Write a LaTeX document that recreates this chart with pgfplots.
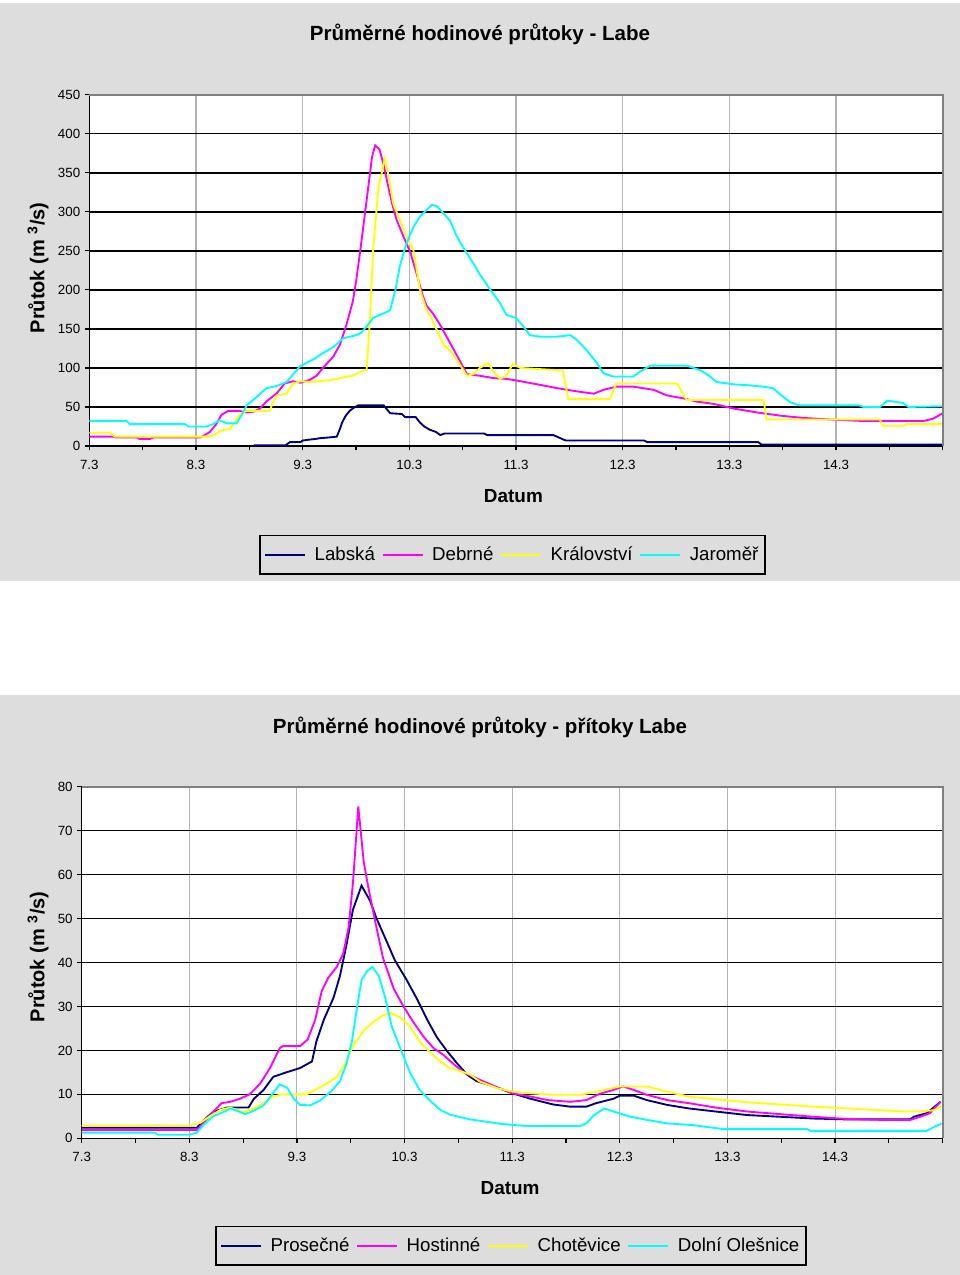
\documentclass[border=0pt]{standalone}
\usepackage{fontspec}
\setmainfont{Liberation Sans}
\usepackage{pgfplots}
\pgfplotsset{compat=1.18}
\definecolor{panel}{RGB}{221,221,221}
\definecolor{navyc}{RGB}{0,0,128}
\definecolor{magc}{RGB}{255,0,255}
\definecolor{yelc}{RGB}{255,255,0}
\definecolor{cyac}{RGB}{0,255,255}
\definecolor{vgrid}{RGB}{180,180,180}
\definecolor{framec}{RGB}{128,128,128}

\pgfplotsset{
 mystyle/.style={
  scale only axis,
  anchor=south west,
  axis x line*=bottom, axis y line*=left,
  axis line style={black, line width=1.1pt},
  axis background/.style={fill=white},
  xmin=0,xmax=8,
  xtick={0,1,2,3,4,5,6,7,8},
  xticklabels={7.3,8.3,9.3,10.3,11.3,12.3,13.3,14.3,{}},
  extra x ticks={0.5,1.5,2.5,3.5,4.5,5.5,6.5,7.5},
  extra x tick labels={},
  extra x tick style={grid=none},
  xmajorgrids, ymajorgrids,
  x grid style={vgrid, line width=0.8pt},
  y grid style={black, line width=1.1pt},
  tick align=outside,
  major tick length=3.3pt,
  tick style={black, line width=0.9pt},
  tick label style={font=\fontsize{10}{12}\selectfont},
  xticklabel style={yshift=-3.5pt},
  /pgf/number format/assume math mode=true,
  every axis plot/.append style={line width=1.4pt, no markers},
  legend columns=4,
  legend image code/.code={\draw[#1, line width=1.5pt] (0pt,0pt) -- (30pt,0pt); \path (34.5pt,0pt);},
  legend style={draw=black, line width=1.1pt, fill=panel, font=\fontsize{14}{16}\selectfont, inner ysep=6.5pt, /tikz/every even column/.append style={column sep=3pt}},
  xlabel={Datum},
  xlabel style={font=\bfseries\fontsize{14.2}{16}\selectfont, anchor=center},
  ylabel={Průtok (m \textsuperscript{3}/s)},
  ylabel style={font=\bfseries\fontsize{15}{17}\selectfont, anchor=center},
  title style={font=\bfseries\fontsize{15.4}{18}\selectfont},
  after end axis/.code={\draw[framec, line width=1.5pt] (rel axis cs:0,1) -- (rel axis cs:1,1) -- (rel axis cs:1,0);},
 }
}

\begin{document}
\begin{tikzpicture}
\path[use as bounding box] (0pt,0pt) rectangle (720pt,-956.25pt);
\fill[panel] (0pt,-2.25pt) rectangle (720pt,-435.75pt);
\fill[panel] (0pt,-521.25pt) rectangle (720pt,-956.25pt);

% ---------------- top chart ----------------
\begin{axis}[mystyle,
  at={(66.975pt,-334.5pt)}, width=640.05pt, height=263.48pt,
  ymin=0, ymax=450, ytick={0,50,100,150,200,250,300,350,400,450},
  title={Průměrné hodinové průtoky - Labe},
  title style={at={(axis description cs:0.4578,1.1500)}, anchor=center},
  xlabel style={at={(axis description cs:0.497,-0.1423)}},
  ylabel style={at={(axis description cs:-0.0601,0.507)}},
  legend style={at={(axis description cs:0.496,-0.2533)}, anchor=north}]
\addplot[navyc] coordinates {
(1.54,1) (1.84,1) (1.86,3) (1.88,5) (1.98,5) (2.0,7) (2.05,8) (2.12,9) (2.16,10) (2.25,11) (2.32,12) (2.35,22) (2.37,30) (2.40,38) (2.44,45) (2.48,49) (2.52,52) (2.76,52) (2.79,47) (2.82,42) (2.93,41) (2.96,37) (3.06,37) (3.1,30) (3.14,25) (3.19,21) (3.25,18) (3.29,14) (3.33,16) (3.7,16) (3.73,14) (4.35,14) (4.4,11) (4.45,8) (4.47,7) (5.2,7) (5.23,5) (6.27,5) (6.3,2) (8.0,2)};
\addlegendentry{Labská}
\addplot[magc] coordinates {
(0,12) (0.22,12) (0.25,11) (0.45,11) (0.47,9) (0.57,9) (0.6,11) (1.04,11) (1.07,13) (1.13,18) (1.19,28) (1.24,40) (1.3,45) (1.41,45) (1.47,43) (1.54,44) (1.6,48) (1.66,57) (1.76,68) (1.83,80) (1.91,83) (1.98,81) (2.07,85) (2.13,90) (2.19,100) (2.29,115) (2.35,130) (2.41,155) (2.47,185) (2.5,210) (2.54,250) (2.6,315) (2.65,370) (2.68,385) (2.72,380) (2.76,360) (2.79,340) (2.84,310) (2.88,290) (2.94,270) (3.01,248) (3.07,220) (3.12,195) (3.16,180) (3.22,170) (3.29,155) (3.35,140) (3.41,125) (3.47,110) (3.54,92) (3.66,90) (3.79,87) (3.91,86) (4.0,84) (4.2,79) (4.39,74) (4.57,70) (4.73,67) (4.82,72) (4.94,76) (5.1,76) (5.29,72) (5.41,65) (5.57,61) (5.69,57) (5.85,54) (6.04,48) (6.26,43) (6.47,39) (6.69,36) (6.94,34) (7.26,32) (7.82,32) (7.91,35) (8.0,42)};
\addlegendentry{Debrné}
\addplot[yelc] coordinates {
(0,17) (0.19,17) (0.24,12) (1.13,12) (1.18,15) (1.24,20) (1.32,22) (1.35,28) (1.41,40) (1.47,45) (1.69,45) (1.72,55) (1.76,65) (1.85,67) (1.91,80) (1.98,83) (2.07,82) (2.16,83) (2.29,85) (2.38,88) (2.47,90) (2.54,95) (2.6,98) (2.63,160) (2.66,250) (2.71,330) (2.77,368) (2.8,350) (2.85,310) (2.91,290) (2.97,270) (3.04,250) (3.1,200) (3.16,175) (3.22,160) (3.32,130) (3.41,118) (3.47,105) (3.54,90) (3.6,92) (3.66,100) (3.74,106) (3.79,95) (3.85,86) (3.91,90) (3.97,105) (4.04,100) (4.41,97) (4.44,97) (4.49,60) (4.88,60) (4.94,80) (5.07,80) (5.51,80) (5.6,59) (6.32,59) (6.35,34) (7.41,34) (7.44,26) (7.63,26) (7.66,28) (8.0,28)};
\addlegendentry{Království}
\addplot[cyac] coordinates {
(0,32) (0.35,32) (0.38,28) (0.9,28) (0.93,25) (1.1,25) (1.16,28) (1.22,33) (1.29,29) (1.38,29) (1.43,40) (1.475,52) (1.57,63) (1.66,74) (1.76,77) (1.85,82) (1.975,102) (2.1,111) (2.19,119) (2.29,127) (2.38,138) (2.475,141) (2.54,144) (2.6,153) (2.66,164) (2.76,170) (2.82,174) (2.87,200) (2.91,230) (2.975,260) (3.04,281) (3.1,294) (3.16,302) (3.21,309) (3.26,307) (3.32,298) (3.38,289) (3.44,270) (3.51,253) (3.6,234) (3.66,220) (3.76,200) (3.85,183) (3.91,168) (4.0,164) (4.07,153) (4.13,142) (4.23,140) (4.38,140) (4.51,142) (4.57,136) (4.66,123) (4.76,106) (4.82,93) (4.91,89) (5.1,89) (5.16,95) (5.26,103) (5.6,103) (5.73,97) (5.82,89) (5.88,82) (6.04,79) (6.16,78) (6.32,76) (6.41,74) (6.47,67) (6.57,56) (6.66,52) (7.22,52) (7.26,50) (7.41,50) (7.48,58) (7.54,57) (7.63,55) (7.68,50) (8.0,51)};
\addlegendentry{Jaroměř}
\end{axis}

% ---------------- bottom chart ----------------
\begin{axis}[mystyle,
  at={(61.275pt,-853.725pt)}, width=645.75pt, height=263.7pt,
  ymin=0, ymax=80, ytick={0,10,20,30,40,50,60,70,80},
  title={Průměrné hodinové průtoky - přítoky Labe},
  title style={at={(axis description cs:0.4626,1.1470)}, anchor=center},
  xlabel style={at={(axis description cs:0.4975,-0.1413)}},
  ylabel style={at={(axis description cs:-0.0508,0.516)}},
  legend style={at={(axis description cs:0.4986,-0.2494)}, anchor=north}]
\addplot[navyc] coordinates {
(0,2.4) (1.07,2.4) (1.13,4) (1.22,6) (1.35,7) (1.55,7) (1.6,9) (1.69,11) (1.78,14) (1.9,15) (2.03,16) (2.14,17.5) (2.18,22) (2.25,27) (2.34,32) (2.4,37) (2.46,44) (2.52,52) (2.6,57.5) (2.68,54) (2.74,50) (2.83,45) (2.91,40.5) (3.02,36) (3.12,31.5) (3.21,27) (3.3,23) (3.39,20) (3.49,17) (3.58,14.5) (3.67,13) (3.83,11.8) (4.01,10.2) (4.17,9) (4.38,7.7) (4.54,7.2) (4.69,7.2) (4.78,8) (4.94,9) (5.0,9.7) (5.13,9.7) (5.25,8.7) (5.44,7.6) (5.64,6.8) (5.89,6.1) (6.18,5.3) (6.49,4.9) (6.8,4.5) (7.11,4.3) (7.7,4.3) (7.73,4.9) (7.85,5.7) (7.98,8.3)};
\addlegendentry{Prosečné}
\addplot[magc] coordinates {
(0,1.9) (1.07,1.9) (1.13,3.5) (1.22,6) (1.3,8) (1.38,8.3) (1.47,9) (1.56,10) (1.66,12.5) (1.75,16) (1.84,20.5) (1.87,21) (2.03,21) (2.1,22.5) (2.17,27) (2.23,33.5) (2.29,36.5) (2.37,39) (2.43,42) (2.48,48) (2.52,58) (2.57,75.5) (2.62,63) (2.66,57.5) (2.73,49) (2.8,41) (2.9,34) (2.99,30) (3.08,26.5) (3.18,23) (3.27,20.5) (3.36,19) (3.45,17) (3.55,15) (3.7,13.3) (3.86,11.6) (4.01,10.2) (4.17,9.5) (4.33,8.7) (4.54,8.3) (4.69,8.7) (4.81,10.1) (4.94,11) (5.03,11.8) (5.13,11) (5.25,9.9) (5.44,8.7) (5.64,8) (5.89,7) (6.18,6.1) (6.49,5.5) (6.8,4.9) (7.11,4.4) (7.42,4.2) (7.7,4.2) (7.79,4.9) (7.88,5.7) (7.98,8.3)};
\addlegendentry{Hostinné}
\addplot[yelc] coordinates {
(0,2.9) (1.0,2.9) (1.1,3.5) (1.19,5) (1.29,6.5) (1.38,7) (1.5,6) (1.6,6.8) (1.69,8) (1.78,9.5) (1.86,10) (2.09,10) (2.17,11) (2.28,12.5) (2.37,14) (2.46,17.5) (2.52,21) (2.62,24.5) (2.71,26.5) (2.8,28) (2.87,28.5) (2.96,27.5) (3.05,25.5) (3.14,22) (3.24,19.5) (3.33,17.5) (3.42,16) (3.52,15.3) (3.61,14.5) (3.7,12.9) (3.86,11.4) (4.01,10.6) (4.2,10.2) (4.38,9.9) (4.63,9.9) (4.78,10.6) (5.0,11.8) (5.25,11.8) (5.44,10.6) (5.64,9.5) (5.89,8.9) (6.18,8.2) (6.49,7.7) (6.8,7.2) (7.11,6.8) (7.42,6.4) (7.63,6.1) (7.79,6.1) (7.92,6.4) (7.99,7.2)};
\addlegendentry{Chotěvice}
\addplot[cyac] coordinates {
(0,1.3) (0.68,1.3) (0.71,0.8) (1.0,0.8) (1.07,1.3) (1.13,3) (1.22,5) (1.32,6) (1.38,6.8) (1.44,6.3) (1.52,5.5) (1.6,6.3) (1.69,7.5) (1.77,10) (1.84,12.3) (1.91,11.5) (1.97,9) (2.03,7.6) (2.12,7.5) (2.21,8.5) (2.31,10.5) (2.4,13) (2.46,17) (2.51,22) (2.56,30) (2.6,36) (2.65,38) (2.7,39) (2.76,37) (2.82,32) (2.88,25.5) (2.96,20.5) (3.05,15) (3.14,11) (3.24,8.5) (3.33,6.5) (3.42,5.4) (3.52,4.8) (3.61,4.3) (3.7,4.0) (3.89,3.3) (4.13,2.8) (4.63,2.8) (4.69,3.4) (4.76,5.3) (4.86,6.8) (4.94,6.1) (5.1,4.9) (5.25,4.2) (5.44,3.4) (5.68,3.0) (5.96,2.1) (6.74,2.1) (6.77,1.7) (7.85,1.7) (7.93,2.7) (7.99,3.4)};
\addlegendentry{Dolní Olešnice}
\end{axis}
\end{tikzpicture}
\end{document}
